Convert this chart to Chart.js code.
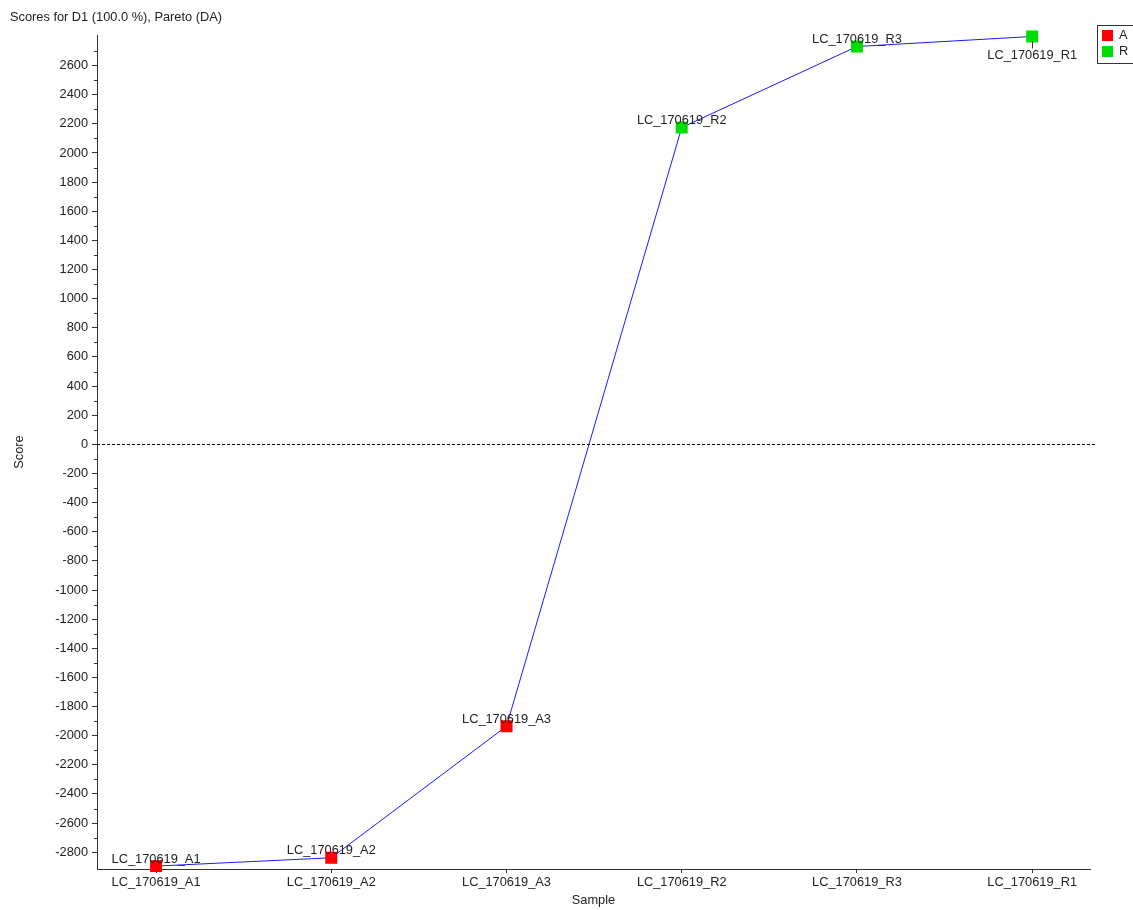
<!DOCTYPE html>
<html>
<head>
<meta charset="utf-8">
<script src="https://cdn.jsdelivr.net/npm/chart.js@4"></script>
<style>
  html, body { margin: 0; padding: 0; background: #fff; }
  #wrap { width: 1133px; height: 910px; position: relative; }
</style>
</head>
<body>
<div id="wrap"><canvas id="chart"></canvas></div>
<script>
// data
const samples = ['LC_170619_A1', 'LC_170619_A2', 'LC_170619_A3', 'LC_170619_R2', 'LC_170619_R3', 'LC_170619_R1'];
const groups = ['A', 'A', 'A', 'R', 'R', 'R'];
const scores = [-2895, -2838, -1935, 2175, 2731, 2800];
const groupNames = ['A', 'R'];
const groupColors = { A: '#ff0000', R: '#00dd00' };

const FONT = '"Liberation Sans", Arial, sans-serif';
const FS = 12.8;
const ink = '#222';

const points = samples.map((s, i) => ({ x: i + 1, y: scores[i] }));

// title, zero line, minor ticks, point labels, legend box
const extras = {
  id: 'extras',
  beforeDatasetsDraw(chart) {
    const { ctx, chartArea, scales: { y } } = chart;
    const y0 = Math.round(y.getPixelForValue(0)) + 0.5;
    ctx.save();
    ctx.strokeStyle = '#000';
    ctx.lineWidth = 1;
    ctx.setLineDash([3, 2]);
    ctx.beginPath();
    ctx.moveTo(chartArea.left, y0);
    ctx.lineTo(chartArea.right + 7, y0);
    ctx.stroke();
    ctx.restore();
  },
  afterDraw(chart) {
    const { ctx, chartArea, scales: { x, y } } = chart;
    ctx.save();
    ctx.font = FS + 'px ' + FONT;
    ctx.fillStyle = ink;
    ctx.textBaseline = 'middle';
    ctx.textAlign = 'left';
    ctx.fillText('Scores for D1 (100.0 %), Pareto (DA)', 10, 17);

    // minor ticks on y axis
    ctx.strokeStyle = '#333';
    ctx.lineWidth = 1;
    y.ticks.forEach(t => {
      if (Math.abs(t.value) % 200 !== 100) return;
      const py = Math.round(y.getPixelForValue(t.value)) + 0.5;
      ctx.beginPath();
      ctx.moveTo(chartArea.left - 3, py);
      ctx.lineTo(chartArea.left, py);
      ctx.stroke();
    });

    // point labels
    ctx.textAlign = 'center';
    samples.forEach((s, i) => {
      const px = x.getPixelForValue(i + 1);
      const py = y.getPixelForValue(scores[i]);
      if (i === samples.length - 1) {
        ctx.beginPath();
        ctx.moveTo(Math.round(px) + 0.5, py + 5);
        ctx.lineTo(Math.round(px) + 0.5, py + 12);
        ctx.strokeStyle = '#333';
        ctx.stroke();
        ctx.fillText(s, px, py + 19);
      } else {
        ctx.fillText(s, px, py - 7);
      }
    });

    // legend box (cut off at right edge)
    ctx.strokeStyle = '#333';
    ctx.lineWidth = 1;
    ctx.strokeRect(1097.5, 25.5, 50, 38);
    ctx.textAlign = 'left';
    groupNames.forEach((g, i) => {
      const ly = 35 + i * 16;
      ctx.fillStyle = groupColors[g];
      ctx.fillRect(1102, ly - 5, 11, 11);
      ctx.fillStyle = ink;
      ctx.fillText(g, 1119, ly);
    });
    ctx.restore();
  }
};

new Chart(document.getElementById('chart'), {
  type: 'line',
  data: {
    datasets: [{
      label: 'Scores',
      data: points,
      borderColor: '#1a1aff',
      borderWidth: 1,
      tension: 0,
      pointStyle: 'rect',
      pointRadius: 8.5,
      pointHoverRadius: 8.5,
      pointBorderWidth: 0,
      pointBackgroundColor: groups.map(g => groupColors[g]),
      clip: false
    }]
  },
  options: {
    responsive: true,
    maintainAspectRatio: false,
    animation: false,
    layout: { padding: { top: 35, right: 43, left: 0, bottom: 0 } },
    plugins: { legend: { display: false }, tooltip: { enabled: false }, title: { display: false } },
    scales: {
      x: {
        type: 'linear',
        min: 0.663,
        max: 6.33,
        afterBuildTicks: s => { s.ticks = samples.map((_, i) => ({ value: i + 1 })); },
        afterFit: s => { s.height = 41; },
        ticks: {
          color: ink,
          font: { family: FONT, size: FS },
          padding: 2,
          maxRotation: 0,
          autoSkip: false,
          callback: v => samples[v - 1]
        },
        grid: { drawOnChartArea: false, drawTicks: true, tickLength: 4, tickColor: '#333' },
        border: { display: true, color: '#333' },
        title: { display: true, text: 'Sample', color: ink, font: { family: FONT, size: FS }, padding: { top: 0, bottom: 2 } }
      },
      y: {
        min: -2915,
        max: 2810,
        afterBuildTicks: s => { s.ticks = s.ticks.filter(t => t.value % 100 === 0); },
        afterFit: s => { s.width = 97; },
        ticks: {
          stepSize: 100,
          color: ink,
          font: { family: FONT, size: FS },
          padding: 4,
          autoSkip: false,
          callback: v => (v % 200 === 0 ? String(v) : '')
        },
        grid: {
          drawOnChartArea: false,
          drawTicks: true,
          tickLength: 5,
          tickColor: c => (Math.abs(c.tick.value) % 200 === 0 ? '#333' : 'transparent')
        },
        border: { display: true, color: '#333' },
        title: { display: true, text: 'Score', color: ink, font: { family: FONT, size: FS }, padding: { top: 12, bottom: 0 } }
      }
    }
  },
  plugins: [extras]
});
</script>
</body>
</html>
